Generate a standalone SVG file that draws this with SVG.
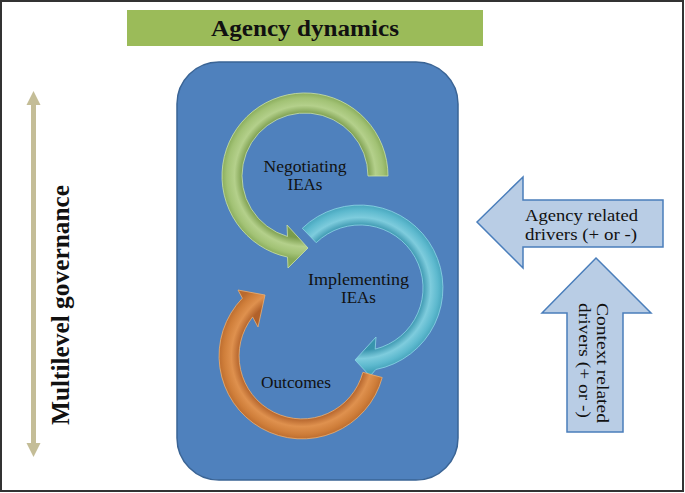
<svg xmlns="http://www.w3.org/2000/svg" width="685" height="493" viewBox="0 0 685 493">
<defs>
<radialGradient id="gGreen" gradientUnits="userSpaceOnUse" cx="305" cy="176" r="84">
<stop offset="0.74" stop-color="#7A9C4C"/><stop offset="0.84" stop-color="#B4D08B"/><stop offset="0.93" stop-color="#A2C275"/><stop offset="1" stop-color="#86A958"/>
</radialGradient>
<radialGradient id="gTeal" gradientUnits="userSpaceOnUse" cx="360" cy="288" r="84">
<stop offset="0.74" stop-color="#3894AD"/><stop offset="0.84" stop-color="#7ECCDD"/><stop offset="0.93" stop-color="#5DB9CE"/><stop offset="1" stop-color="#44A2BA"/>
</radialGradient>
<radialGradient id="gOrange" gradientUnits="userSpaceOnUse" cx="302" cy="356" r="84">
<stop offset="0.74" stop-color="#B1612A"/><stop offset="0.84" stop-color="#DF914E"/><stop offset="0.93" stop-color="#CF7E3A"/><stop offset="1" stop-color="#B96A2E"/>
</radialGradient>
</defs>
<style>
.frame{fill:#fff;stroke:#333;stroke-width:2}
.lbl{font-family:"Liberation Serif",serif;fill:#111}
.bold{font-weight:bold}
.block{fill:#B9CDE5;stroke:#4A7EBB;stroke-width:1.5}
.tan{fill:#C4BD97}
</style>
<rect class="frame" x="1" y="1" width="682" height="490"/>

<g id="title">
<rect x="127" y="10" width="356" height="36" fill="#9BBB59"/>
<text class="lbl bold" x="305" y="36" font-size="24" text-anchor="middle" textLength="188" lengthAdjust="spacingAndGlyphs">Agency dynamics</text>
</g>

<g id="multilevel">
<rect class="tan" x="31" y="102" width="5" height="344"/>
<polygon class="tan" points="33.5,91 40.5,105 26.5,105"/>
<polygon class="tan" points="33.5,457 40.5,443 26.5,443"/>
<text class="lbl bold" transform="translate(69,425) rotate(-90)" font-size="24.5" textLength="240" lengthAdjust="spacingAndGlyphs">Multilevel governance</text>
</g>

<g id="panel">
<rect x="177" y="62" width="281" height="418" rx="42" ry="42" fill="#4F81BD" stroke="#3A6495" stroke-width="1.5"/>
</g>

<g id="connectors">
<path id="teal-arrow" d="M302.3,228.3 A83,83 0 1 1 375.8,369.5 L370,376 L355,360 L376,337 L375.2,349.1 A63,63 0 1 0 316.2,242.7 Z" fill="url(#gTeal)" stroke="#8ED6E6" stroke-width="0.8"/>
<path id="orange-arrow" d="M382.2,377.5 A83,83 0 1 1 242.4,298.2 L238,290 L265,295 L258,327 L252.6,316.9 A63,63 0 1 0 362.9,372.3 Z" fill="url(#gOrange)" stroke="#EDB070" stroke-width="0.8"/>
<path id="green-arrow" d="M388,176 A83,83 0 1 0 287.5,257.1 L288,268 L308,248 L287,225 L287.5,236.5 A63,63 0 1 1 368,176 Z" fill="url(#gGreen)" stroke="#CBE2A6" stroke-width="0.8"/>
</g>

<g id="negotiating">
<text class="lbl" x="305" y="172" font-size="17" text-anchor="middle" textLength="83" lengthAdjust="spacingAndGlyphs">Negotiating</text>
<text class="lbl" x="305" y="190" font-size="17" text-anchor="middle">IEAs</text>
</g>
<g id="implementing">
<text class="lbl" x="358.5" y="285" font-size="17" text-anchor="middle" textLength="101" lengthAdjust="spacingAndGlyphs">Implementing</text>
<text class="lbl" x="358.5" y="303" font-size="17" text-anchor="middle">IEAs</text>
</g>
<g id="outcomes">
<text class="lbl" x="296" y="388" font-size="17" text-anchor="middle" textLength="70" lengthAdjust="spacingAndGlyphs">Outcomes</text>
</g>

<g id="agency-drivers">
<polygon class="block" points="477,222 523,177 523,200 663,200 663,247 523,247 523,268"/>
<text class="lbl" x="525" y="221" font-size="17.5" textLength="113" lengthAdjust="spacingAndGlyphs">Agency related</text>
<text class="lbl" x="525" y="240" font-size="17.5" textLength="112" lengthAdjust="spacingAndGlyphs">drivers (+ or -)</text>
</g>

<g id="context-drivers">
<polygon class="block" points="596,258 651,313 623,313 623,432 567,432 567,313 542,313"/>
<text class="lbl" transform="translate(597,303) rotate(90)" font-size="17.5">
<tspan x="0" y="0" textLength="120" lengthAdjust="spacingAndGlyphs">Context related</tspan>
<tspan x="0" y="18.5" textLength="115" lengthAdjust="spacingAndGlyphs">drivers (+ or -)</tspan>
</text>
</g>
</svg>
